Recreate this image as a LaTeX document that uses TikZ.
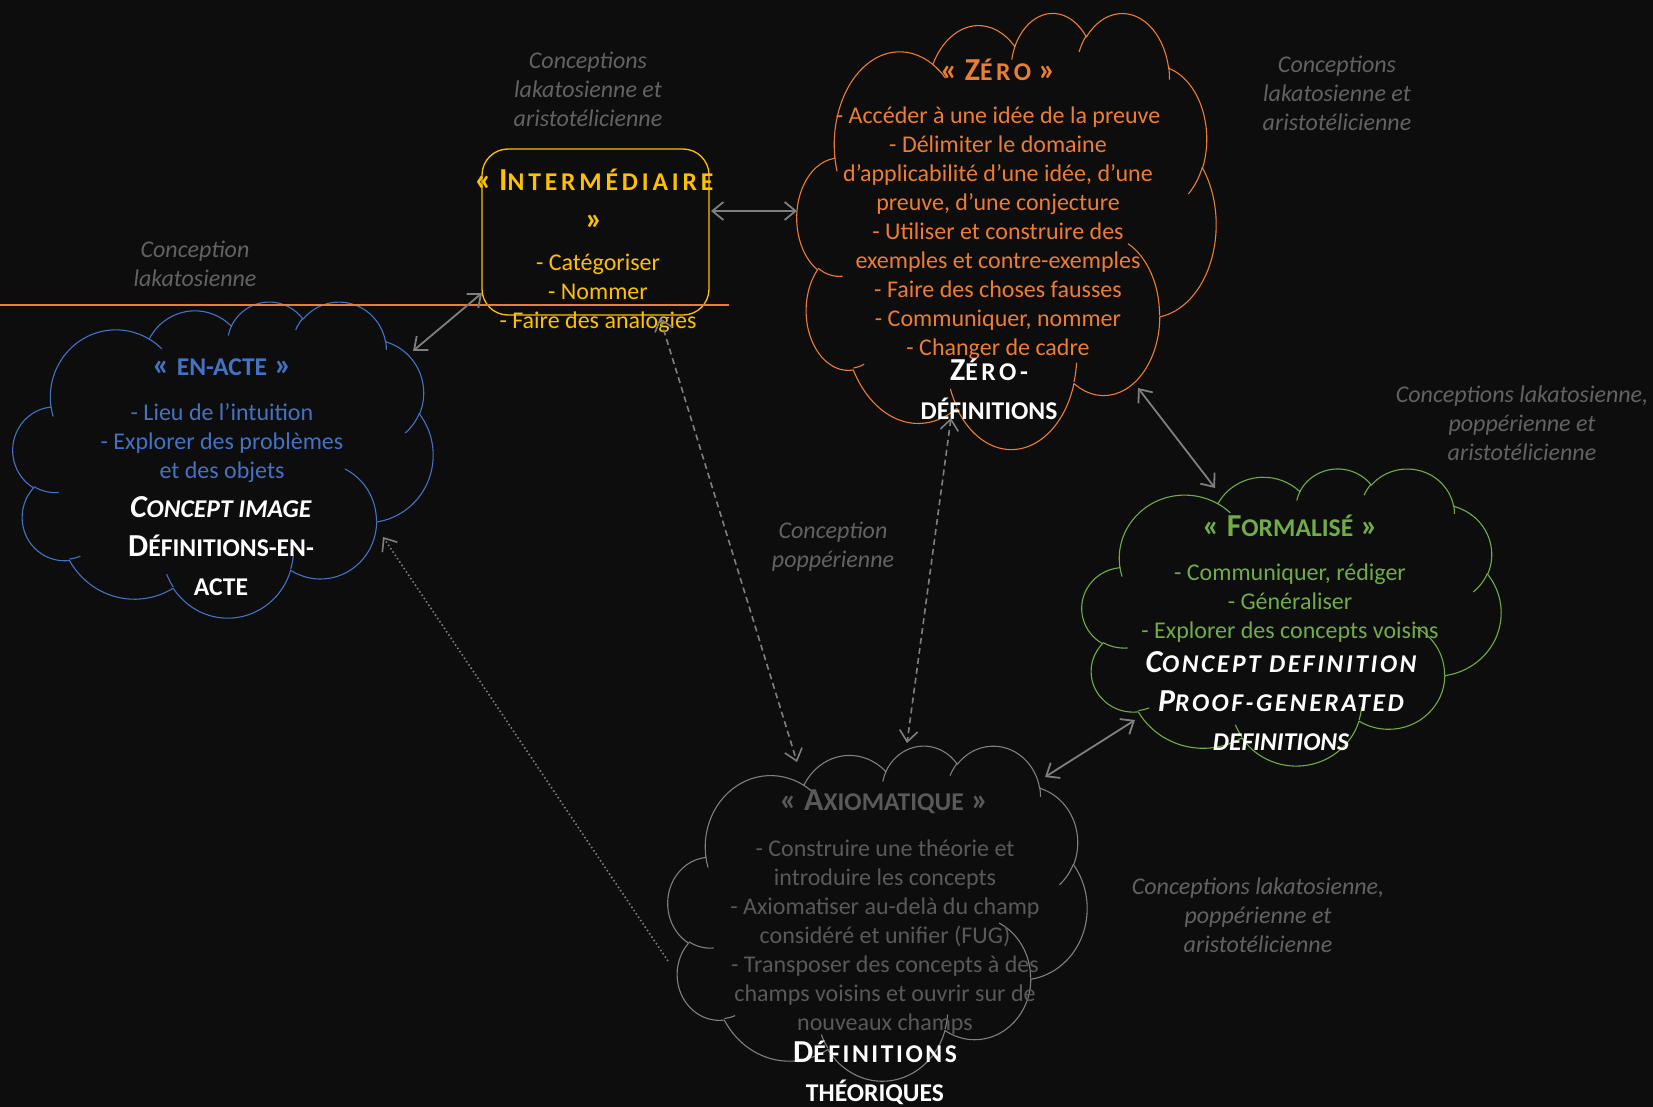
\documentclass[tikz,border=0pt]{standalone}
\usepackage{fontspec}
\setmainfont{Carlito}
\usetikzlibrary{arrows.meta}
\definecolor{bg}{HTML}{0D0D0D}
\definecolor{cblue}{HTML}{4472C4}
\definecolor{corange}{HTML}{ED7D31}
\definecolor{cgold}{HTML}{FFC000}
\definecolor{cgreen}{HTML}{70AD47}
\definecolor{caxtext}{HTML}{595959}
\definecolor{caxline}{HTML}{7F7F7F}
\definecolor{clabel}{HTML}{626262}
\definecolor{carrow}{HTML}{7F7F7F}

\newcommand\SC[1]{{\fontsize{25.6}{39}\selectfont #1}}
\newcommand\LS[2][10]{{\addfontfeature{LetterSpace=#1}#2}}

% --- PowerPoint-like cloud geometry (box 0..100 x 0..100, y down) ---
\newcommand\addarc[5]{%
  \pgfmathsetmacro\cta{atan2((#2)*sin(#4),(#3)*cos(#4))}%
  \pgfmathsetmacro\ctb{atan2((#2)*sin((#4)+(#5)),(#3)*cos((#4)+(#5)))}%
  \pgfmathsetmacro\ctd{\ctb-\cta}%
  \pgfmathsetmacro\ctd{\ctd-360*round((\ctd-(#5))/360)}%
  \xdef#1{#1 arc[start angle=\cta,delta angle=\ctd,x radius=#2,y radius=#3]}}
\newcommand\addmove[3]{\xdef#1{#1 (#2,#3)}}
\def\cloudouter{}
\addarc\cloudouter{15.632}{21.273}{-190.487}{123.781}
\addarc\cloudouter{12.345}{16.822}{-144.102}{89.945}
\addarc\cloudouter{10.104}{13.762}{-145.808}{99.723}
\addarc\cloudouter{11.243}{15.266}{-130.986}{117.242}
\addarc\cloudouter{12.345}{16.836}{-78.709}{109.027}
\addarc\cloudouter{15.683}{21.343}{-46.267}{130.269}
\addarc\cloudouter{13.391}{18.211}{0.625}{114.033}
\addarc\cloudouter{15.630}{21.331}{22.452}{115.173}
\addarc\cloudouter{17.870}{24.405}{66.243}{75.711}
\addarc\cloudouter{10.093}{13.699}{-274.942}{146.736}
\addarc\cloudouter{10.058}{13.762}{-246.829}{152.519}
\def\cloudinner{}
\addmove\cloudinner{10.863}{60.595}\addarc\cloudinner{10.058}{13.762}{86.742}{26.430}
\addmove\cloudinner{16.037}{80.785}\addarc\cloudinner{10.093}{13.699}{73.610}{11.447}
\addmove\cloudinner{38.144}{90.486}\addarc\cloudinner{15.630}{21.331}{137.624}{14.081}
\addmove\cloudinner{66.729}{80.442}\addarc\cloudinner{15.630}{21.331}{6.453}{15.998}
\addmove\cloudinner{79.002}{53.134}\addarc\cloudinner{13.391}{18.211}{-70.292}{70.917}
\addmove\cloudinner{96.755}{35.542}\addarc\cloudinner{12.345}{16.836}{30.318}{27.752}
\addmove\cloudinner{88.713}{12.560}\addarc\cloudinner{11.243}{15.266}{-13.744}{14.855}
\addmove\cloudinner{67.310}{9.148}\addarc\cloudinner{11.243}{15.266}{-149.181}{18.195}
\addmove\cloudinner{51.252}{10.926}\addarc\cloudinner{10.104}{13.762}{-163.494}{17.686}
\addmove\cloudinner{32.407}{12.019}\addarc\cloudinner{15.632}{21.273}{-66.707}{12.319}
\addmove\cloudinner{9.553}{36.549}\addarc\cloudinner{15.632}{21.273}{157.654}{11.858}

\newcommand\drawcloud[5]{%
  \begin{scope}[shift={(#1,#2)},x=#3pt/100,y=-#4pt/100]
    \filldraw[fill=bg,draw=#5,line width=1.1pt,line join=round] (9.028,33.264) \cloudouter -- cycle;
    \draw[#5,line width=1.1pt] \cloudinner;
  \end{scope}}

\tikzset{
  body/.style={font=\fontsize{24}{29}\selectfont, align=center, inner sep=0pt},
  ttl/.style={font=\fontsize{32}{39}\selectfont\bfseries, align=center, inner sep=0pt},
  defn/.style={font=\fontsize{32}{39}\selectfont\bfseries, text=white, align=center, inner sep=0pt},
  lbl/.style={font=\fontsize{24}{29}\selectfont\itshape, text=clabel, align=center, inner sep=0pt},
  tipb/.tip={Straight Barb[length=11pt,width=18pt]},
  biarrow/.style={draw=carrow, line width=1.8pt, tipb-tipb},
  dasharrow/.style={draw=carrow, line width=1.6pt, dash pattern=on 6pt off 4pt, tipb-tipb},
  dotarrow/.style={draw=carrow, line width=1.6pt, dash pattern=on 1.5pt off 2.5pt, -tipb},
}

\begin{document}
\begin{tikzpicture}[x=1pt,y=-1pt]
\fill[bg] (0,0) rectangle (1653,1107);
\useasboundingbox (0,0) rectangle (1653,1107);

% clouds
\drawcloud{13}{301}{420}{316}{cblue}
\drawcloud{797}{12}{419}{436}{corange}
\drawcloud{1082}{468}{419}{297}{cgreen}
\drawcloud{668}{745}{419}{335}{caxline}

% intermediate box
\node[draw=cgold, line width=1.3pt, rounded corners=26pt, minimum width=227pt, minimum height=166pt, inner sep=0pt] (interbox) at (595.5,232) {};

% divider line
\coordinate (divL) at (0,305);
\coordinate (divR) at (729,305);
\draw[corange, line width=2pt] (divL) -- (divR);

% EN-ACTE
\node[ttl, text=cblue] (eaT) at (222,367) {« \SC{EN-ACTE} »};
\node[body, text=cblue] (eaB) at (222,443) {- Lieu de l’intuition\\- Explorer des problèmes\\et des objets};
\node[defn] (eaD) at (221,546) {\textit{C\SC{ONCEPT IMAGE}}\\D\SC{ÉFINITIONS-EN-}\\\SC{ACTE}};

% Intermediaire
\node[ttl, text=cgold] (iT) at (594,199) {« \LS[15]{I\SC{NTERMÉDIAIRE}}\\»};
\node[body, text=cgold] (iB) at (598,293) {- Catégoriser\\- Nommer\\- Faire des analogies};

% Zero
\node[ttl, text=corange] (zT) at (998,70) {« \LS[14]{Z\SC{ÉRO}} »};
\node[body, text=corange] (zB) at (998,233) {- Accéder à une idée de la preuve\\- Délimiter le domaine\\d’applicabilité d’une idée, d’une\\preuve, d’une conjecture\\- Utiliser et construire des\\exemples et contre-exemples\\- Faire des choses fausses\\- Communiquer, nommer\\- Changer de cadre};
\node[defn] (zD) at (989,389) {\LS[14]{Z\SC{ÉRO-}}\\\SC{DÉFINITIONS}};

% Formalise
\node[ttl, text=cgreen] (fT) at (1290,526) {« F\SC{ORMALISÉ} »};
\node[body, text=cgreen] (fB) at (1290,603) {- Communiquer, rédiger\\- Généraliser\\- Explorer des concepts voisins};
\node[defn, font=\fontsize{32}{39}\selectfont\bfseries\itshape] (fD) at (1281,701) {\LS{C\SC{ONCEPT DEFINITION}}\\\LS{P\SC{ROOF-GENERATED}}\\\SC{DEFINITIONS}};

% Axiomatique
\node[ttl, text=caxtext] (xT) at (884,802) {« A\SC{XIOMATIQUE} »};
\node[body, text=caxtext] (xB) at (885,937) {- Construire une théorie et\\introduire les concepts\\- Axiomatiser au-delà du champ\\considéré et unifier (FUG)\\- Transposer des concepts à des\\champs voisins et ouvrir sur de\\nouveaux champs};
\node[defn] (xD) at (875,1073) {\LS{D\SC{ÉFINITIONS}}\\\SC{THÉORIQUES}};

% labels
\node[lbl] (l1) at (588,89) {Conceptions\\lakatosienne et\\aristotélicienne};
\node[lbl] (l2) at (1337,93) {Conceptions\\lakatosienne et\\aristotélicienne};
\node[lbl] (l3) at (195,264) {Conception\\lakatosienne};
\node[lbl] (l4) at (1522,423) {Conceptions lakatosienne,\\poppérienne et\\aristotélicienne};
\node[lbl] (l5) at (833,547) {Conception\\poppérienne};
\node[lbl] (l6) at (1258,915) {Conceptions lakatosienne,\\poppérienne et\\aristotélicienne};

% connector end points
\coordinate (eaNE) at (413,351);
\coordinate (inSW) at (482,293);
\coordinate (inE) at (711,211);
\coordinate (zW) at (797,211);
\coordinate (zSE) at (1138,388);
\coordinate (fN) at (1215,488);
\coordinate (fSW) at (1135,720);
\coordinate (xNE) at (1045,777);
\coordinate (inS) at (660,318);
\coordinate (xNW) at (797,762);
\coordinate (zS) at (951,418);
\coordinate (xN) at (907,743);
\coordinate (xW) at (668,961);
\coordinate (eaSE) at (383,537);

\draw[biarrow] (eaNE) -- (inSW);
\draw[biarrow] (inE) -- (zW);
\draw[biarrow] (zSE) -- (fN);
\draw[biarrow] (fSW) -- (xNE);
\draw[dasharrow] (inS) -- (xNW);
\draw[dasharrow] (zS) -- (xN);
\draw[dotarrow] (xW) -- (eaSE);
\end{tikzpicture}
\end{document}
